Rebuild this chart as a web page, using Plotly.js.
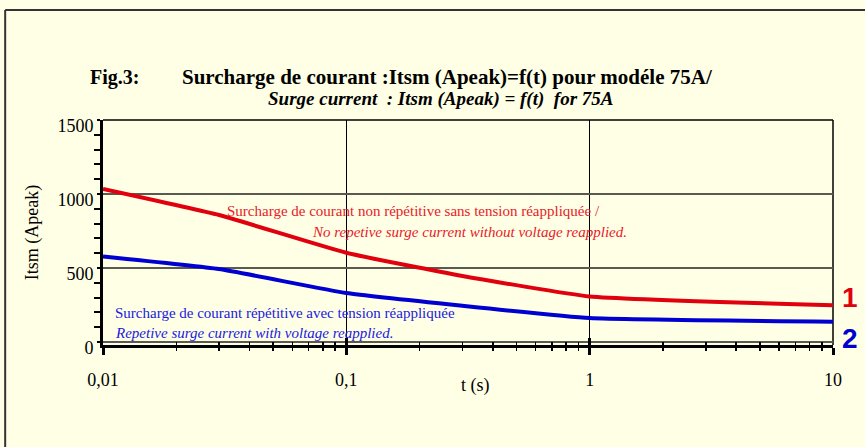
<!DOCTYPE html>
<html>
<head>
<meta charset="utf-8">
<script src="https://cdn.plot.ly/plotly-3.0.1.min.js"></script>
<style>
  html, body { margin: 0; padding: 0; background: #FFFFE6; }
  #chart { width: 865px; height: 447px; }
</style>
</head>
<body>
<div id="chart"></div>
<script>
// ---- data ----
const timeS = [0.01, 0.03, 0.1, 0.3, 1, 10];
const nonRepetitive = [1034, 858, 603, 446, 308, 248];   // curve 1 (red)
const repetitive    = [578, 493, 331, 245, 162, 137];    // curve 2 (blue)

const xTickVals = [0.01, 0.1, 1, 10];
const xTickText = ['0,01', '0,1', '1', '10'];
const xMinorVals = [0.02, 0.03, 0.04, 0.05, 0.06, 0.07, 0.08, 0.09,
                    0.2, 0.3, 0.4, 0.5, 0.6, 0.7, 0.8, 0.9,
                    2, 3, 4, 5, 6, 7, 8, 9];
const yTickVals = [0, 500, 1000, 1500];
const yTickText = ['0', '500', '1000', '1500'];
const yMinorVals = [100, 200, 300, 400, 600, 700, 800, 900, 1100, 1200, 1300, 1400];

const titleLine1Label = 'Fig.3:';
const titleLine1 = 'Surcharge de courant :Itsm (Apeak)=f(t) pour modéle 75A/';
const titleLine2 = 'Surge current  : Itsm (Apeak) = f(t)  for 75A';
const xTitle = 't (s)';
const yTitle = 'Itsm (Apeak)';
const redLabel1 = 'Surcharge de courant non répétitive sans tension réappliquée /';
const redLabel2 = 'No repetive surge current without voltage reapplied.';
const blueLabel1 = 'Surcharge de courant répétitive avec tension réappliquée';
const blueLabel2 = 'Repetive surge current with voltage reapplied.';

const RED = '#E0000E';
const BLUE = '#0000D0';
const BG = '#FFFFE6';
const SERIF = 'Liberation Serif, Times New Roman, serif';
const SANS = 'Liberation Sans, Arial, sans-serif';

const traces = [
  { x: timeS, y: nonRepetitive, type: 'scatter', mode: 'lines',
    line: { color: RED, width: 4, shape: 'spline', smoothing: 0.4 }, hoverinfo: 'skip', showlegend: false },
  { x: timeS, y: repetitive, type: 'scatter', mode: 'lines', xaxis: 'x2',
    line: { color: BLUE, width: 4, shape: 'spline', smoothing: 0.4 }, hoverinfo: 'skip', showlegend: false }
];

const layout = {
  width: 865, height: 447,
  paper_bgcolor: BG, plot_bgcolor: BG,
  margin: { l: 103, r: 32, t: 120, b: 102 },
  showlegend: false,
  font: { family: SERIF, color: 'black', size: 17 },
  xaxis: {
    type: 'log', range: [-2, 1],
    tickvals: xTickVals, ticktext: xTickText,
    ticks: 'outside', ticklen: 7, tickwidth: 3, tickcolor: 'black',
    ticklabelstandoff: 10,
    showline: true, linewidth: 2.5, linecolor: 'black',
    showgrid: true, gridcolor: 'black', gridwidth: 1,
    zeroline: false,
    tickfont: { family: SERIF, size: 18, color: 'black' },
    minor: { tickvals: xMinorVals, ticks: 'outside', ticklen: 3, tickwidth: 1.5, tickcolor: 'black', showgrid: false }
  },
  xaxis2: {
    type: 'log', range: [-2, 1], overlaying: 'x', anchor: 'y', side: 'bottom',
    tickvals: xTickVals, showticklabels: false,
    ticks: 'inside', ticklen: 7, tickwidth: 3, tickcolor: 'black',
    showline: false, showgrid: false, zeroline: false,
    minor: { tickvals: xMinorVals, ticks: 'inside', ticklen: 3, tickwidth: 1.5, tickcolor: 'black', showgrid: false }
  },
  yaxis: {
    range: [-20, 1500],
    tickvals: yTickVals, ticktext: yTickText,
    ticks: 'outside', ticklen: 3, tickwidth: 1.5, tickcolor: 'black',
    showline: true, linewidth: 3, linecolor: 'black',
    showgrid: true, gridcolor: '#5a5a50', gridwidth: 1.2,
    zeroline: false,
    ticklabelshift: 6,
    tickfont: { family: SERIF, size: 18, color: 'black' },
    minor: { tickvals: yMinorVals, ticks: 'outside', ticklen: 6, tickwidth: 2, tickcolor: 'black', showgrid: false },
    title: { text: yTitle, font: { family: SERIF, size: 18, color: 'black' }, standoff: 15 }
  },
  shapes: [
    { type: 'line', xref: 'paper', yref: 'paper', x0: -0.134, x1: 1.1, y0: 1.489, y1: 1.489,
      line: { color: '#333', width: 2 }, layer: 'below' },
    { type: 'line', xref: 'paper', yref: 'paper', x0: -0.134, x1: -0.134, y0: 1.489, y1: -0.6,
      line: { color: '#333', width: 2 }, layer: 'below' },
    { type: 'line', xref: 'paper', yref: 'paper', x0: 0, x1: 1, y0: 1, y1: 1,
      line: { color: 'black', width: 1.5 }, layer: 'below' },
    { type: 'line', xref: 'paper', yref: 'paper', x0: 1, x1: 1, y0: 0, y1: 1,
      line: { color: 'black', width: 1.5 }, layer: 'below' }
  ],
  annotations: [
    { text: '<b>' + titleLine1Label + '</b>', xref: 'paper', yref: 'paper', x: -0.0205, y: 1.19,
      xanchor: 'left', yanchor: 'middle', showarrow: false,
      font: { family: SERIF, size: 20, color: 'black' } },
    { text: '<b>' + titleLine1 + '</b>', xref: 'paper', yref: 'paper', x: 0.1055, y: 1.19,
      xanchor: 'left', yanchor: 'middle', showarrow: false,
      font: { family: SERIF, size: 21, color: 'black' } },
    { text: '<b><i>' + titleLine2 + '</i></b>', xref: 'paper', yref: 'paper', x: 0.463, y: 1.095,
      xanchor: 'center', yanchor: 'middle', showarrow: false,
      font: { family: SERIF, size: 19, color: 'black' } },
    { text: xTitle, xref: 'paper', yref: 'paper', x: 0.51, y: -0.18,
      xanchor: 'center', yanchor: 'middle', showarrow: false,
      font: { family: SERIF, size: 18, color: 'black' } },
    { text: redLabel1, xref: 'paper', yref: 'paper', x: 0.167, y: 0.596,
      xanchor: 'left', yanchor: 'middle', showarrow: false, font: { family: SERIF, size: 15, color: '#E8202A' } },
    { text: '<i>' + redLabel2 + '</i>', xref: 'paper', yref: 'paper', x: 0.2836, y: 0.502,
      xanchor: 'left', yanchor: 'middle', showarrow: false, font: { family: SERIF, size: 15, color: '#E8202A' } },
    { text: blueLabel1, xref: 'paper', yref: 'paper', x: 0.0137, y: 0.1436,
      xanchor: 'left', yanchor: 'middle', showarrow: false, font: { family: SERIF, size: 15, color: '#2020E0' } },
    { text: '<i>' + blueLabel2 + '</i>', xref: 'paper', yref: 'paper', x: 0.0137, y: 0.0547,
      xanchor: 'left', yanchor: 'middle', showarrow: false, font: { family: SERIF, size: 15, color: '#2020E0' } },
    { text: '<b>1</b>', xref: 'paper', yref: 'paper', x: 1.023, y: 0.209,
      xanchor: 'center', yanchor: 'middle', showarrow: false, font: { family: SANS, size: 28, color: RED } },
    { text: '<b>2</b>', xref: 'paper', yref: 'paper', x: 1.023, y: 0.03,
      xanchor: 'center', yanchor: 'middle', showarrow: false, font: { family: SANS, size: 28, color: BLUE } }
  ]
};

Plotly.newPlot('chart', traces, layout, { staticPlot: true, displayModeBar: false });
</script>
</body>
</html>
